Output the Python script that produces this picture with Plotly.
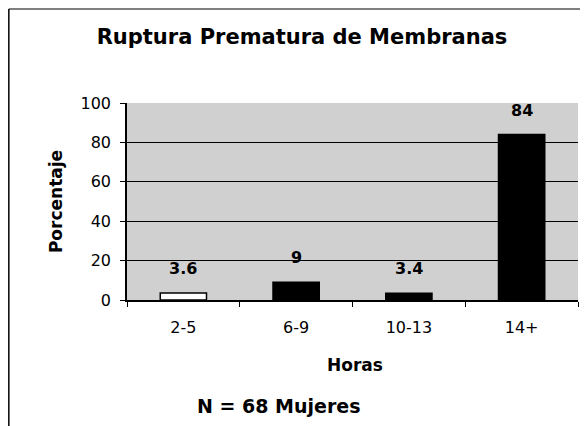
import plotly.graph_objects as go

horas = ['2-5', '6-9', '10-13', '14+']
porcentaje = [3.6, 9, 3.4, 84]
etiquetas = ['3.6', '9', '3.4', '84']
colores = ['white', 'black', 'black', 'black']

FONT = 'DejaVu Sans, Arial, sans-serif'

fig = go.Figure()
fig.add_trace(go.Bar(
    x=horas, y=porcentaje,
    marker=dict(color=colores, line=dict(color='black', width=1.5)),
    width=0.41, showlegend=False, hoverinfo='skip'
))

# value labels floating above bars
for h, v, t in zip(horas, porcentaje, etiquetas):
    fig.add_annotation(x=h, y=v, text='<b>' + t + '</b>', showarrow=False,
                       yanchor='bottom', yshift=13,
                       font=dict(family=FONT, size=16, color='black'))

fig.add_annotation(xref='paper', yref='paper', x=0.505, y=-0.33,
                   text='<b>Horas</b>', showarrow=False, yanchor='middle',
                   font=dict(family=FONT, size=17, color='black'))
fig.add_annotation(xref='paper', yref='paper', x=0.337, y=-0.538,
                   text='<b>N = 68 Mujeres</b>', showarrow=False, yanchor='middle',
                   font=dict(family=FONT, size=19, color='black'))

# outer frame (left and top edges visible in scan)
fig.add_shape(type='line', xref='paper', yref='paper', x0=-0.262, x1=1.05,
              y0=1.477, y1=1.477, line=dict(color='#555555', width=1.5))
fig.add_shape(type='line', xref='paper', yref='paper', x0=-0.262, x1=-0.262,
              y0=-0.7, y1=1.477, line=dict(color='black', width=1.5))

fig.update_layout(
    width=588, height=426,
    margin=dict(l=119, r=18, t=95, b=134),
    paper_bgcolor='white', plot_bgcolor='#d0d0d0',
    title=dict(text='<b>Ruptura Prematura de Membranas</b>', x=0.5, xanchor='center',
               y=0.932, yanchor='middle',
               font=dict(family=FONT, size=21, color='black')),
    font=dict(family=FONT, size=16, color='black'),
    bargap=0.59,
)
fig.update_xaxes(type='category', showline=True, linecolor='black', linewidth=1.5,
                 ticks='outside', tickson='boundaries', ticklen=5, tickcolor='black',
                 showgrid=False, tickfont=dict(size=16), ticklabelstandoff=12)
fig.update_yaxes(range=[0, 100], dtick=20, showline=True, linecolor='black', linewidth=1.5,
                 ticks='outside', ticklen=5, tickcolor='black',
                 showgrid=True, gridcolor='black', gridwidth=1, zeroline=False,
                 ticklabelstandoff=6,
                 title=dict(text='<b>Porcentaje</b>', standoff=14,
                            font=dict(family=FONT, size=17)),
                 tickfont=dict(size=16))

fig.write_html('out.html')
